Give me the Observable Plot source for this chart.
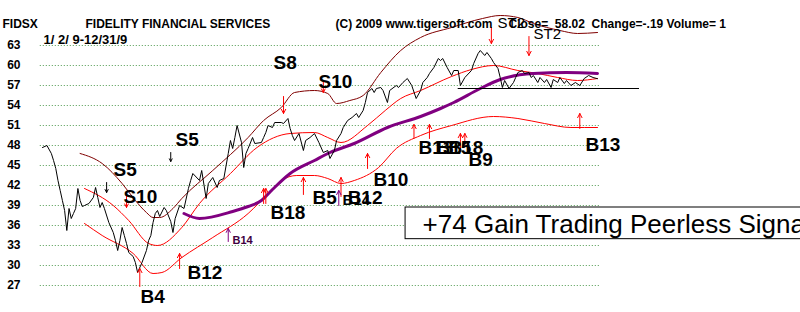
<!DOCTYPE html>
<html><head><meta charset="utf-8">
<script src="https://cdn.jsdelivr.net/npm/d3@7"></script>
<script src="https://cdn.jsdelivr.net/npm/@observablehq/plot@0.6"></script>
<style>html,body{margin:0;padding:0;background:#fff;} #chart{width:800px;height:312px;overflow:hidden}</style>
</head><body><div id="chart"></div>
<script>
// ---- data ----
const yTicks = [27,30,33,36,39,42,45,48,51,54,57,60,63];

// trading-day index (0 = 1/2/09, 251 = 12/31/09) and daily close
const priceDay = [0,2,4,5,6,7,8,9,10,11,12,13,14,15,16,17,18,19,21,23,24,25,26,27,28,30,32,33,34,35,36,37,38,39,41,42,43,45,47,48,49,50,51,52,53,55,56,58,59,60,62,64,66,67,68,71,72,74,75,77,79,80,82,84,85,86,87,88,90,91,92,93,95,96,99,100,101,102,104,105,108,109,111,112,113,114,116,118,119,121,123,125,127,129,130,132,133,135,136,138,140,142,143,145,146,147,149,150,151,153,154,156,157,160,161,163,164,165,167,169,171,172,174,175,177,179,180,181,183,185,186,188,189,191,194,195,197,198,200,201,203,204,206,207,208,209,211,213,214,215,217,218,220,221,222,224,225,227,228,230,231,233,234,236,237,239,241,243,245,247,249,251];
const priceClose = [47.70,48.00,46.80,45.75,44.55,42.75,41.25,39.75,38.25,35.25,38.55,37.05,37.80,38.55,41.55,39.75,38.85,39.00,39.30,40.20,41.70,40.20,38.70,39.45,38.55,36.45,34.95,33.75,32.25,33.75,35.70,34.50,33.30,31.95,31.35,30.45,28.95,30.45,32.25,33.75,34.50,36.45,37.80,38.25,37.35,38.70,38.25,36.60,34.95,37.05,39.00,38.55,41.55,42.75,43.80,42.75,44.25,40.05,42.30,43.20,41.70,42.75,43.05,46.80,48.75,47.55,49.20,51.00,48.45,44.70,46.80,47.55,49.20,48.30,48.45,49.20,49.95,51.00,50.70,51.45,51.45,51.30,52.05,50.55,49.50,48.75,49.80,47.25,48.75,49.20,49.80,48.45,46.95,47.25,46.05,47.25,48.75,49.80,50.70,51.75,52.20,52.80,52.20,53.25,54.45,55.95,56.55,55.95,56.55,56.70,56.25,54.45,56.25,57.00,56.70,57.45,57.75,58.05,57.00,55.05,56.25,57.45,58.20,58.80,59.70,61.05,60.75,61.05,59.70,58.50,59.25,59.25,57.00,58.20,59.25,60.30,61.80,62.25,61.50,61.95,61.05,60.45,59.55,58.20,56.70,57.75,56.55,57.45,58.20,58.95,59.25,58.80,58.95,58.20,58.50,57.45,58.20,57.45,57.90,56.70,57.90,57.45,58.20,57.30,57.75,57.00,57.45,57.00,58.05,58.50,58.20,58.02];

// upper band (dark red)
const upperDay = [17,27,36,42,47,50,53,59,63,77,93,100,108,114,123,129,133,139,145,153,162,171,185,199,207,215,222,234,242,251];
const upperValue = [46.80,45.30,42.30,39.75,37.95,37.20,37.20,38.55,40.05,44.25,49.20,51.75,53.70,55.95,56.25,55.80,54.30,54.75,55.50,58.95,62.25,64.20,65.70,67.05,67.50,67.20,66.30,65.25,64.80,64.95];

// middle moving average (red)
const middleDay = [19,32,39,48,52,63,71,85,97,112,123,129,135,147,155,162,171,185,194,204,215,224,233,242,251];
const middleValue = [41.55,39.00,36.75,33.30,33.00,35.70,39.30,43.80,47.70,49.80,49.95,49.20,48.45,51.00,53.25,55.05,56.25,58.35,59.40,60.00,59.25,58.80,58.20,57.75,58.05];

// lower band (red)
const lowerDay = [19,27,41,50,54,63,77,93,102,108,115,123,129,135,141,152,160,171,185,204,215,227,239,251];
const lowerValue = [36.30,34.50,31.80,28.80,28.95,31.20,34.20,37.80,40.80,42.75,43.50,43.50,43.05,42.30,42.75,44.70,47.55,49.50,51.00,52.35,52.05,51.30,50.70,50.70];

// long moving average (purple)
const longDay = [64,71,86,93,99,104,112,123,130,141,156,171,180,186,198,207,222,237,251];
const longValue = [37.80,37.05,38.10,38.85,39.75,41.40,43.80,45.75,46.95,48.30,50.70,52.35,53.55,54.45,56.55,57.90,58.80,58.95,58.80];

// support level drawn in black
const supportLevel = 56.55, supportFrom = 188, supportTo = 270;

// signal arrows
const sellBlackDay = [29,58], sellBlackFrom = [42.45,46.95], sellBlackTo = [40.95,45.60];
const sellRedDay = [38,109,127,203,220], sellRedFrom = [40.50,55.35,57.75,65.70,64.35], sellRedTo = [38.70,52.80,55.95,63.30,61.50];
const buyRedDay = [44,62,100,101,118,135,147,168,175,189,191,243];
const buyRedFrom = [26.85,29.55,39.30,39.30,40.65,40.35,44.55,49.05,49.05,47.55,47.85,50.55];
const buyRedTo = [29.55,31.80,41.55,41.55,43.20,43.20,46.80,51.15,51.15,49.80,49.80,52.80];
const buyPurpleDay = [84,134], buyPurpleFrom = [33.60,39.00], buyPurpleTo = [35.55,41.25];

// signal labels
const sigText = ["S5","S10","S5","S8","S10","B4","B12","B18","B5","B12","B10","B13","B15","B18","B9","B13"];
const sigDay = [32.1,36.6,60.2,104.5,124.8,44.3,65.6,103.1,122.1,138,149.7,170.1,178.2,183.6,192.7,245.6];
const sigValue = [43.5,39.45,48.0,59.55,56.7,24.45,28.05,37.05,39.3,39.3,42.0,46.8,46.8,46.8,45.0,47.25];
const smallText = ["B14"], smallDay = [85.9], smallValue = [33.3];
const midText = ["B14"], midDay = [135.7], midValue = [39.15];
const st2Text = ["ST2","ST2"], st2Day = [205.8,222.1], st2Value = [65.7,64.05];

// gain box
const boxText = "+74 Gain Trading Peerless Signals";
const boxFrom = 164.2, boxTo = 400, boxLow = 33.95, boxHigh = 38.70, boxTextDay = 171.9, boxTextValue = 34.95;

// header texts
const ticker = "FIDSX";
const fundName = "FIDELITY FINANCIAL SERVICES";
const copyright = "(C) 2009 www.tigersoft.com";
const quote = "Close=  58.02  Change=-.19 Volume= 1";
const period = "1/ 2/ 9-12/31/9";

// ---- tables ----
const zip = (a, b) => a.map((d, i) => ({day: d, value: b[i]}));
const price = zip(priceDay, priceClose);
const upper = zip(upperDay, upperValue);
const middle = zip(middleDay, middleValue);
const lower = zip(lowerDay, lowerValue);
const longMA = zip(longDay, longValue);
const arr = (d, f, t) => d.map((x, i) => ({day: x, from: f[i], to: t[i]}));
const sellBlack = arr(sellBlackDay, sellBlackFrom, sellBlackTo);
const sellRed = arr(sellRedDay, sellRedFrom, sellRedTo);
const buyRed = arr(buyRedDay, buyRedFrom, buyRedTo);
const buyPurple = arr(buyPurpleDay, buyPurpleFrom, buyPurpleTo);
const lab = (t, d, v) => t.map((s, i) => ({text: s, day: d[i], value: v[i]}));
const sigs = lab(sigText, sigDay, sigValue);
const smalls = lab(smallText, smallDay, smallValue);
const mids = lab(midText, midDay, midValue);
const st2s = lab(st2Text, st2Day, st2Value);

const FONT = "'Liberation Sans', Arial, Helvetica, sans-serif";
const hdr = (s, dx, dy, extra = {}) => Plot.text([s], {text: d => d, frameAnchor: "top-left", dx, dy, textAnchor: "start", lineAnchor: "bottom", fontSize: 12, fontWeight: "bold", fill: "black", ...extra});

const arrowOpts = {x1: "day", x2: "day", y1: "from", y2: "to", strokeWidth: 1, headLength: 7, headAngle: 55};

const chart = Plot.plot({
  width: 800, height: 312,
  marginLeft: 42, marginRight: 203, marginTop: 45, marginBottom: 27,
  style: {fontFamily: FONT, background: "white", color: "black"},
  x: {domain: [0, 251], axis: null},
  y: {domain: [27, 63]},
  marks: [
    Plot.ruleY(yTicks, {x1: () => -1, x2: () => 252.5, stroke: "#4f9a4f", strokeDasharray: "1,2", strokeWidth: 1}),
    Plot.axisY(yTicks, {anchor: "left", tickSize: 0, tickPadding: 22, fontSize: 12, fontWeight: "bold", label: null, fill: "black"}),
    Plot.line(upper, {x: "day", y: "value", stroke: "#800000", strokeWidth: 1, curve: "monotone-x"}),
    Plot.line(middle, {x: "day", y: "value", stroke: "#ff0000", strokeWidth: 1, curve: "monotone-x"}),
    Plot.line(lower, {x: "day", y: "value", stroke: "#ff0000", strokeWidth: 1, curve: "monotone-x"}),
    Plot.line(longMA, {x: "day", y: "value", stroke: "#800080", strokeWidth: 3, curve: "monotone-x"}),
    Plot.line(price, {x: "day", y: "value", stroke: "black", strokeWidth: 1}),
    Plot.ruleY([supportLevel], {x1: () => supportFrom, x2: () => supportTo, stroke: "black", strokeWidth: 1}),
    Plot.arrow(sellBlack, {...arrowOpts, stroke: "black", headLength: 5}),
    Plot.arrow(sellRed, {...arrowOpts, stroke: "red"}),
    Plot.arrow(buyRed, {...arrowOpts, stroke: "red"}),
    Plot.arrow(buyPurple, {...arrowOpts, stroke: "#800080"}),
    Plot.text(sigs, {x: "day", y: "value", text: "text", textAnchor: "start", lineAnchor: "bottom", fontSize: 19, fontWeight: "bold", fill: "black"}),
    Plot.text(mids, {x: "day", y: "value", text: "text", textAnchor: "start", lineAnchor: "bottom", fontSize: 15, fontWeight: "bold", fill: "black"}),
    Plot.text(smalls, {x: "day", y: "value", text: "text", textAnchor: "start", lineAnchor: "bottom", fontSize: 11, fontWeight: "bold", fill: "#400040"}),
    Plot.rect([0], {x1: () => boxFrom, x2: () => boxTo, y1: () => boxLow, y2: () => boxHigh, fill: "white", stroke: "black", strokeWidth: 1}),
    Plot.text([boxText], {text: d => d, x: () => boxTextDay, y: () => boxTextValue, textAnchor: "start", lineAnchor: "bottom", fontSize: 26, fill: "black"}),
    hdr(ticker, -40, -18),
    hdr(fundName, 43, -18),
    hdr(copyright, 293, -18),
    hdr(quote, 466, -18),
    hdr(period, 1, -2, {fontSize: 13}),
    Plot.text(st2s, {x: "day", y: "value", text: "text", textAnchor: "start", lineAnchor: "bottom", fontSize: 15, fill: "black"})
  ]
});
document.getElementById("chart").appendChild(chart);
</script>
</body></html>
